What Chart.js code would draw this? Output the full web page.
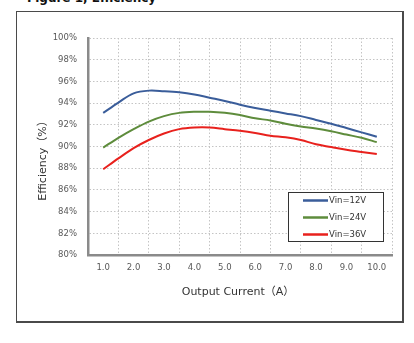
<!DOCTYPE html>
<html>
<head>
<meta charset="utf-8">
<script src="https://cdn.jsdelivr.net/npm/chart.js@4/dist/chart.umd.min.js"></script>
<style>
  html, body { margin: 0; padding: 0; background: #fff; }
  body { width: 414px; height: 343px; position: relative; overflow: hidden; }
  #caption {
    position: absolute; left: 27px; top: -8px; margin: 0;
    font: bold 12px "DejaVu Sans", sans-serif; line-height: 12px; color: #111;
    white-space: nowrap;
  }
  #frame {
    position: absolute; left: 16px; top: 11px; width: 388px; height: 312px;
    box-sizing: border-box; border: 1px solid #4a4a4a;
    border-right-width: 2px; border-bottom-width: 2px; background: #fff;
  }
  #frame canvas { position: absolute; left: 0; top: 0; }
</style>
</head>
<body>
<div id="caption">Figure 1, Efficiency</div>
<div id="frame"><canvas id="c" width="385" height="309"></canvas></div>
<script>
// Output current (A), sampled every 0.5 A
const currents = [1.0, 1.5, 2.0, 2.5, 3.0, 3.5, 4.0, 4.5, 5.0, 5.5, 6.0, 6.5, 7.0, 7.5, 8.0, 8.5, 9.0, 9.5, 10.0];
// Efficiency (%) for each input voltage
const vin12 = [93.1, 94.05, 94.9, 95.15, 95.1, 95.0, 94.8, 94.5, 94.2, 93.85, 93.55, 93.3, 93.05, 92.8, 92.45, 92.1, 91.7, 91.3, 90.9];
const vin24 = [89.9, 90.8, 91.6, 92.3, 92.8, 93.1, 93.2, 93.2, 93.1, 92.9, 92.6, 92.4, 92.1, 91.85, 91.65, 91.4, 91.1, 90.8, 90.4];
const vin36 = [87.9, 88.9, 89.85, 90.6, 91.2, 91.6, 91.75, 91.75, 91.6, 91.45, 91.25, 91.0, 90.85, 90.6, 90.2, 89.95, 89.7, 89.5, 89.3];
const seriesNames = ['Vin=12V', 'Vin=24V', 'Vin=36V'];
const xTickLabels = ['1.0', '2.0', '3.0', '4.0', '5.0', '6.0', '7.0', '8.0', '9.0', '10.0'];
const yTicks = [80, 82, 84, 86, 88, 90, 92, 94, 96, 98, 100];
const xTitle = 'Output Current（A）';
const yTitle = 'Efficiency（%）';

const colors = ['#3a5d9a', '#5e8c3c', '#e8211d'];
const toPoints = vals => vals.map((v, i) => ({ x: currents[i], y: v }));

const GRID = '#c4c4c4';
const AXIS = '#8a8a8a';

// Axis titles and the boxed legend inside the plot
const extras = {
  id: 'extras',
  afterDraw(chart) {
    const ctx = chart.ctx;
    const area = chart.chartArea;
    ctx.save();
    ctx.fillStyle = '#333';
    ctx.font = '11px "DejaVu Sans", "Noto Sans CJK JP", sans-serif';
    ctx.textAlign = 'center';
    ctx.textBaseline = 'middle';
    ctx.fillText(xTitle, (area.left + area.right) / 2 - 2, 280);
    ctx.translate(26, 146);
    ctx.rotate(-Math.PI / 2);
    ctx.fillText(yTitle, 0, 0);
    ctx.restore();

    // legend box
    ctx.save();
    const bx = 271.5, by = 180.5, bw = 95, bh = 49;
    ctx.fillStyle = '#fff';
    ctx.fillRect(bx, by, bw, bh);
    ctx.strokeStyle = '#333';
    ctx.lineWidth = 1;
    ctx.strokeRect(bx, by, bw, bh);
    ctx.font = '8.5px "DejaVu Sans", sans-serif';
    ctx.textAlign = 'left';
    ctx.textBaseline = 'middle';
    chart.data.datasets.forEach((ds, i) => {
      const y = 188.5 + i * 17;
      ctx.strokeStyle = ds.borderColor;
      ctx.lineWidth = 2.5;
      ctx.beginPath();
      ctx.moveTo(286, y);
      ctx.lineTo(311, y);
      ctx.stroke();
      ctx.fillStyle = '#333';
      ctx.fillText(ds.label, 312, y);
    });
    ctx.restore();
  }
};

new Chart(document.getElementById('c'), {
  type: 'line',
  data: {
    datasets: [vin12, vin24, vin36].map((vals, i) => ({
      label: seriesNames[i],
      data: toPoints(vals),
      borderColor: colors[i],
      backgroundColor: colors[i],
      borderWidth: 2,
      pointRadius: 0,
      tension: 0.35,
      fill: false
    }))
  },
  options: {
    responsive: false,
    animation: false,
    events: [],
    layout: { padding: { left: 0, right: 10, top: 26, bottom: 0 } },
    plugins: { legend: { display: false }, tooltip: { enabled: false } },
    scales: {
      x: {
        type: 'linear',
        min: 0.5,
        max: 10.5,
        afterBuildTicks(scale) {
          const t = [];
          for (let v = 0.5; v <= 10.51; v += 0.5) t.push({ value: Math.round(v * 10) / 10 });
          scale.ticks = t;
        },
        afterFit(scale) { scale.height = 66; },
        ticks: {
          autoSkip: false,
          maxRotation: 0,
          padding: 8,
          color: '#595959',
          font: { family: 'DejaVu Sans', size: 8.5 },
          callback(v) {
            const idx = Math.round(v) - 1;
            return Number.isInteger(v) ? xTickLabels[idx] : '';
          }
        },
        grid: {
          drawTicks: false,
          lineWidth: 1,
          color(ctx) {
            const v = ctx.tick ? ctx.tick.value : 0;
            if (Number.isInteger(v) || v <= 0.5) return 'rgba(0,0,0,0)';
            return GRID;
          }
        },
        border: { display: true, color: AXIS, width: 2.5, dash: [1.5, 2] }
      },
      y: {
        min: 80,
        max: 100,
        afterBuildTicks(scale) { scale.ticks = yTicks.map(v => ({ value: v })); },
        afterFit(scale) { scale.width = 71; },
        ticks: {
          padding: 11,
          color: '#595959',
          font: { family: 'DejaVu Sans', size: 8.5 },
          callback: v => v + '%'
        },
        grid: {
          drawTicks: false,
          lineWidth: 1,
          color(ctx) {
            const v = ctx.tick ? ctx.tick.value : 0;
            return v <= 80 ? 'rgba(0,0,0,0)' : GRID;
          }
        },
        border: { display: true, color: AXIS, width: 2.5, dash: [1.5, 2] }
      }
    }
  },
  plugins: [extras]
});
</script>
</body>
</html>
